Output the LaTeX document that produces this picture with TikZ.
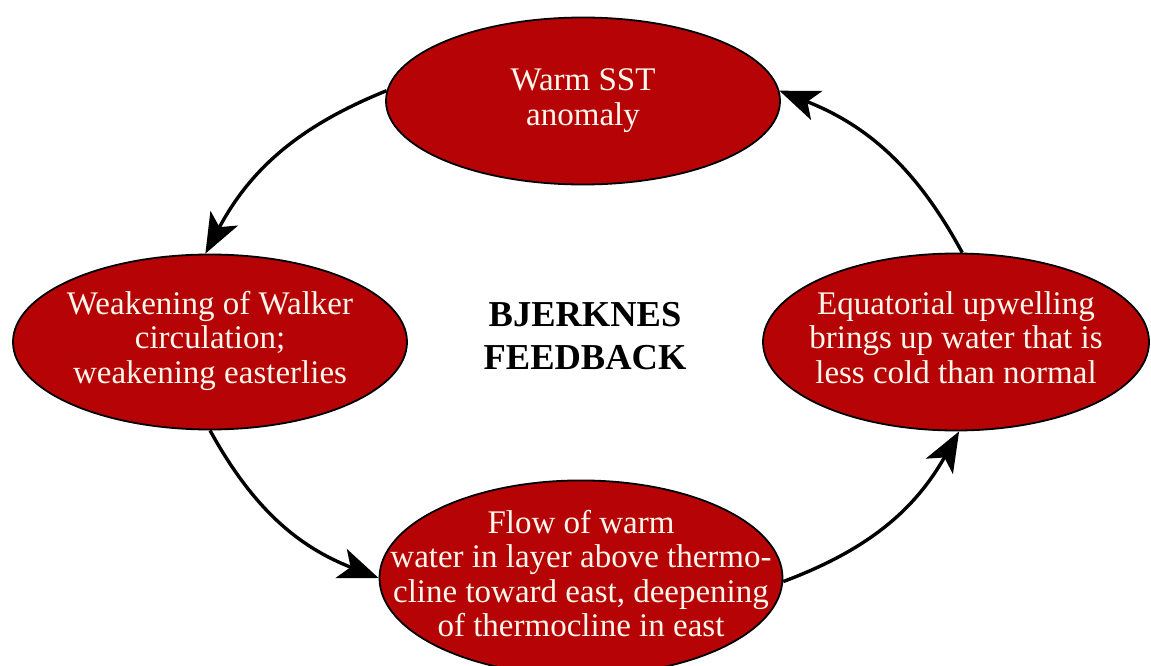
\documentclass[tikz,border=0pt]{standalone}
\usepackage{fontspec}
\setmainfont{Liberation Serif}
\usetikzlibrary{shapes.geometric,arrows.meta}
\definecolor{ovalred}{RGB}{182,4,6}
\definecolor{ovaltext}{RGB}{255,246,236}
\newcommand{\ovaltext}[1]{\makebox[0pt][c]{\begin{tabular}{@{}c@{}}#1\end{tabular}}}
\tikzset{
  oval/.style={ellipse, draw=black, line width=1.8pt, fill=ovalred, inner sep=0pt,
    text=ovaltext, font=\fontsize{33}{34.5}\selectfont},
  flow/.style={line width=3.4pt, -{Stealth[length=40pt,width=31pt,inset=10pt]}, bend right=20},
  title/.style={align=center, font=\fontsize{36.5}{43}\selectfont\bfseries}
}
\begin{document}
\begin{tikzpicture}[x=1pt,y=-1pt]
\useasboundingbox (0,0) rectangle (1151,666);
\node[oval, minimum width=394pt, minimum height=167pt] (top) at (583,101)
  {\ovaltext{Warm SST\\anomaly}};
\node[oval, minimum width=394pt, minimum height=175pt] (left) at (210,342)
  {\ovaltext{Weakening of Walker\\circulation;\\weakening easterlies}};
\node[oval, minimum width=386pt, minimum height=177pt] (right) at (956,342)
  {\ovaltext{Equatorial upwelling\\brings up water that is\\less cold than normal}};
\node[oval, minimum width=403pt, minimum height=172pt] (bottom) at (581,578)
  {\ovaltext{Flow of warm\\water in layer above thermo-\\cline toward east, deepening\\of thermocline in east}};
\node[title] (center) at (585,336) {BJERKNES\\FEEDBACK};
\draw[flow] (top.177) to (left.93);
\draw[flow] (left.270) to (bottom.180);
\draw[flow] (bottom.359) to (right.272);
\draw[flow] (right.86) to (top.3);
\end{tikzpicture}
\end{document}
